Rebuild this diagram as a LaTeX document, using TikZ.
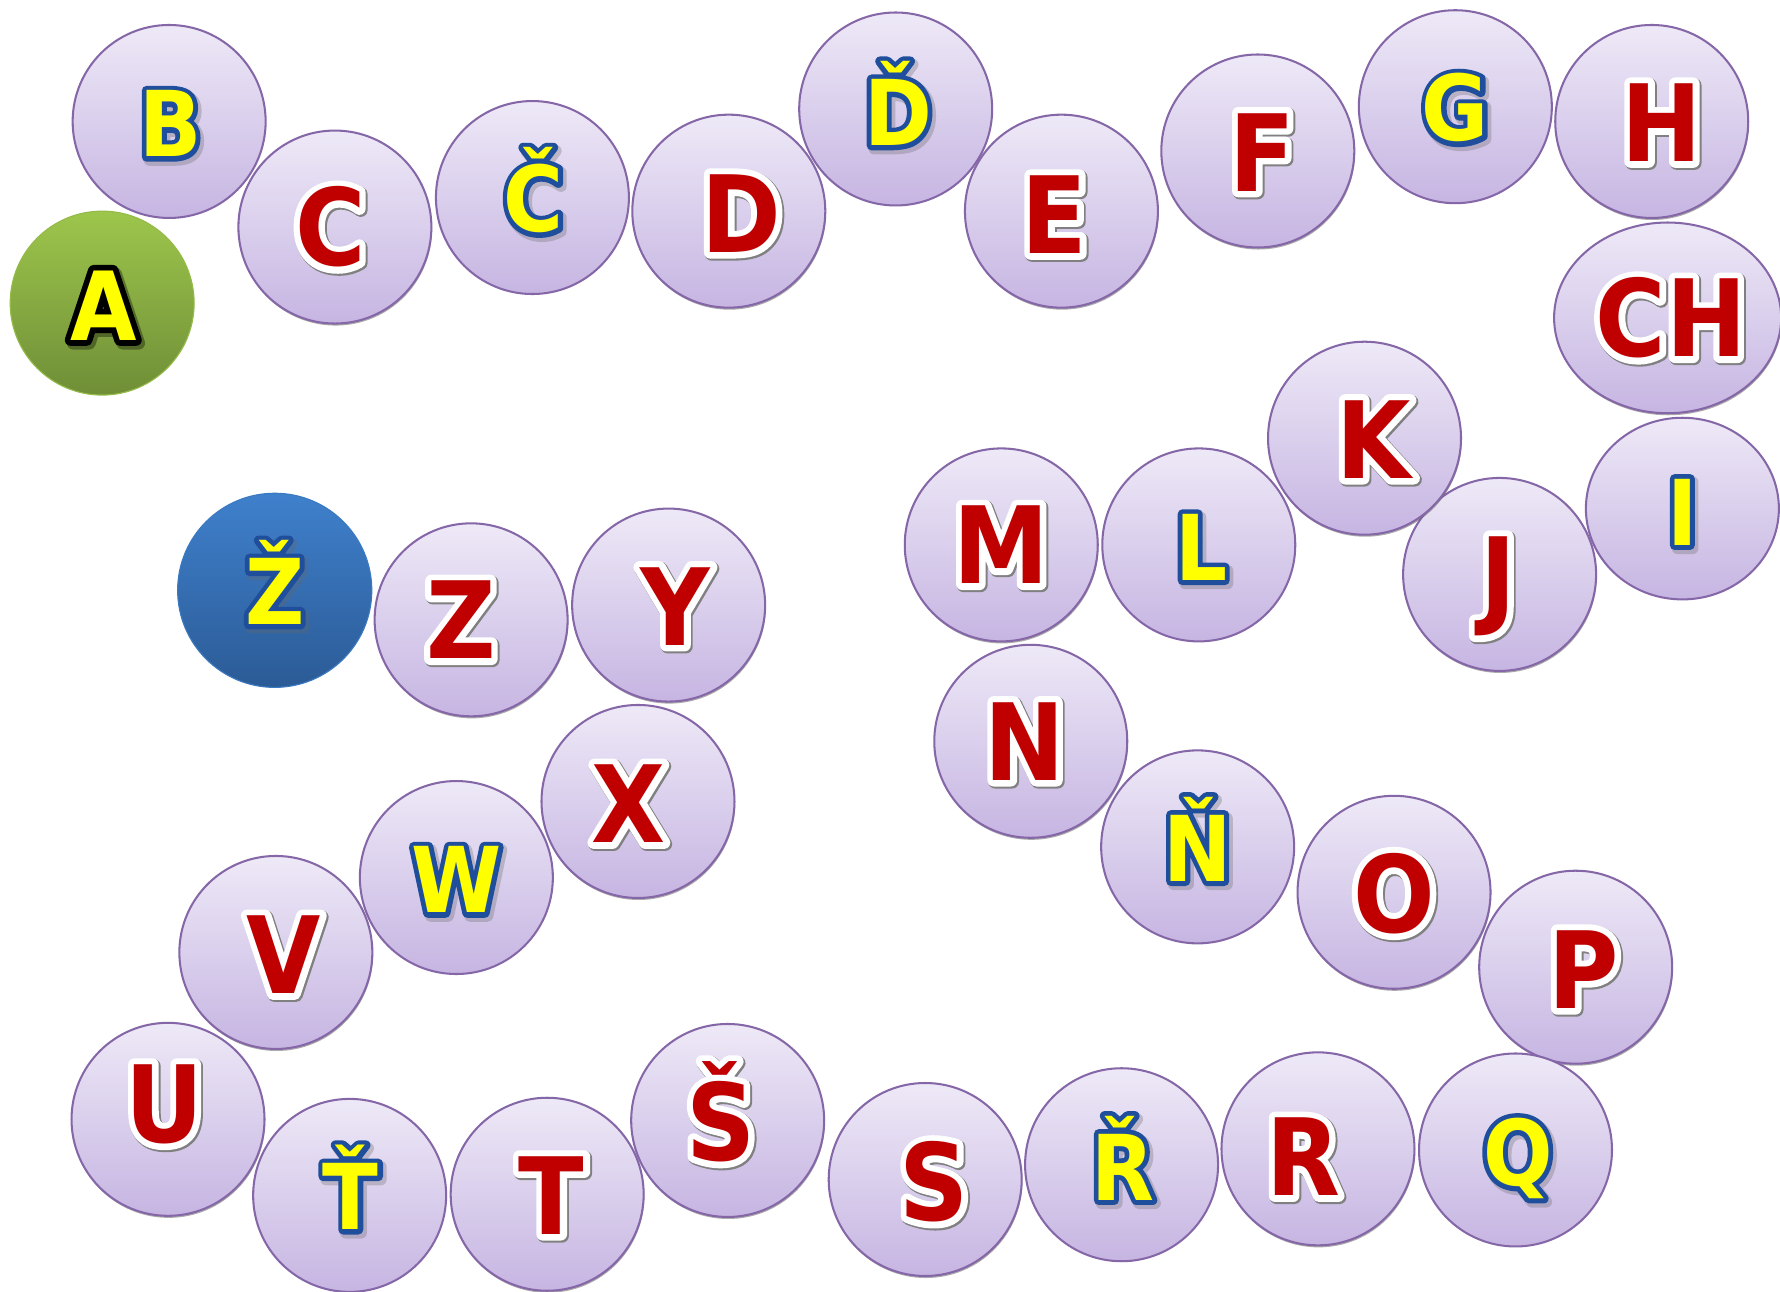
\documentclass[tikz,border=0pt]{standalone}
\usepackage{fontspec}
\usetikzlibrary{shapes.geometric}
\newfontfamily\lf{DejaVu Sans Bold}[FakeStretch=0.9]
\definecolor{lavtop}{HTML}{EEE9F7}
\definecolor{lavbot}{HTML}{C6B5E2}
\definecolor{bubline}{HTML}{8567A8}
\definecolor{redc}{HTML}{C00000}
\definecolor{yelc}{HTML}{FFFF00}
\definecolor{gtop}{HTML}{9DC64C}
\definecolor{gbot}{HTML}{6F8E37}
\definecolor{btop}{HTML}{3F80CC}
\definecolor{bbot}{HTML}{2B5B96}
\tikzset{
 bub/.style={circle, minimum size=170pt, inner sep=0pt, draw=bubline, line width=1.8pt, top color=lavtop, bottom color=lavbot},
 rl/.style={inner sep=0pt, anchor=base, text=redc, font=\lf\fontsize{94}{100}\selectfont},
 yl/.style={inner sep=0pt, anchor=base, text=yelc, font=\lf\fontsize{80}{90}\selectfont},
 al/.style={inner sep=0pt, anchor=base, text=yelc, font=\lf\fontsize{84}{90}\selectfont},
}
% outlined text: stroke colour (pdf RG), stroke width, text
\newcommand\olt[3]{\special{pdf:literal direct #1 RG #2 w 1 j 2 Tr}#3\special{pdf:literal direct 0 Tr}}
% bubbles
\newcommand\shbub[3]{%
  \fill[black!60, opacity=.55] (#2+0.6,#3+1.8) circle (85);
  \node[bub] (#1) at (#2,#3) {};}
\newcommand\plbub[3]{\node[bub] (#1) at (#2,#3) {};}
% letters: name, x, ycenter, text
\newcommand\redlet[4]{%
  \path (#2,#3) ++(1.2,35.6) node[rl, text=black!45] (#1s) {\olt{0.5 0.5 0.5}{12}{#4}};
  \path (#2,#3) ++(0,34.3) node[rl] (#1o) {\olt{1 1 1}{11}{#4}};
  \path (#2,#3) ++(0,34.3) node[rl] (#1) {#4};}
\newcommand\yellet[4]{%
  \path (#2,#3) ++(2.4,32) node[yl, text=black!60, text opacity=.3] (#1s) {\olt{0.4 0.4 0.4}{10}{#4}};
  \path (#2,#3) ++(0,29.2) node[yl] (#1o) {\olt{0.12 0.31 0.61}{8.5}{#4}};
  \path (#2,#3) ++(0,29.2) node[yl] (#1) {#4};}
\begin{document}
\begin{tikzpicture}[x=1pt,y=-1pt]
\useasboundingbox (0,0) rectangle (1568,1138);
\clip (0,0) rectangle (1568,1138);
\fill[white] (0,0) rectangle (1568,1138);
% special bubbles
\node[circle, minimum size=162pt, inner sep=0pt, top color=gtop, bottom color=gbot, draw=gtop!80!gbot, line width=1pt] (bA) at (90,267) {};
\node[circle, minimum size=171pt, inner sep=0pt, top color=btop, bottom color=bbot, draw=btop!80!bbot, line width=1pt] (bZcar) at (242,520) {};
% lavender bubbles
\plbub{bB}{149}{107}
\shbub{bC}{295}{200}
\plbub{bCcar}{469}{174}
\shbub{bD}{642}{186}
\plbub{bDcar}{789}{96}
\shbub{bE}{935}{186}
\shbub{bF}{1108}{133}
\plbub{bG}{1282}{94}
\shbub{bH}{1455}{107}
\fill[black!60, opacity=.55] (1469.6,281.8) ellipse (100 and 84);
\node[bub, ellipse, minimum width=200pt, minimum height=168pt] (bCH) at (1469,280) {};
\node[bub, ellipse, minimum width=170pt, minimum height=160pt] (bI) at (1482,448) {};
\shbub{bJ}{1321}{506}
\shbub{bK}{1202}{386}
\plbub{bL}{1056}{480}
\shbub{bM}{882}{480}
\shbub{bN}{908}{653}
\plbub{bNcar}{1055}{746}
\shbub{bO}{1228}{786}
\shbub{bP}{1388}{852}
\plbub{bQ}{1335}{1013}
\shbub{bR}{1161}{1012}
\plbub{bRcar}{988}{1026}
\shbub{bS}{815}{1039}
\shbub{bScar}{641}{987}
\shbub{bT}{482}{1052}
\plbub{bTcar}{308}{1053}
\shbub{bU}{148}{986}
\shbub{bV}{243}{839}
\plbub{bW}{402}{773}
\shbub{bX}{562}{706}
\shbub{bY}{589}{533}
\shbub{bZ}{415}{546}
% letters
\path (91,269) ++(2.4,33.4) node[al, text=black, text opacity=.35] (tAs) {\olt{0 0 0}{11}{A}};
\path (91,269) ++(0,30.6) node[al] (tAo) {\olt{0 0 0}{10}{A}};
\path (91,269) ++(0,30.6) node[al] (tA) {A};
\yellet{tB}{150}{109}{B}
\redlet{tC}{291}{200}{C}
\yellet{tCcar}{470}{175}{Č}
\redlet{tD}{653}{188}{D}
\yellet{tDcar}{791}{99}{Ď}
\redlet{tE}{929}{189}{E}
\redlet{tF}{1112}{134}{F}
\yellet{tG}{1282}{95}{G}
\redlet{tH}{1464}{108}{H}
\redlet{tCH}{1472}{280}{CH}
\yellet{tI}{1482}{451}{I}
\redlet{tJ}{1320}{507}{J}
\redlet{tK}{1210}{387}{K}
\yellet{tL}{1058}{482}{L}
\redlet{tM}{882}{480}{M}
\redlet{tN}{903}{653}{N}
\yellet{tNcar}{1055}{747}{Ň}
\redlet{tO}{1228}{787}{O}
\redlet{tP}{1395}{854}{P}
\yellet{tQ}{1337}{1015}{Q}
\redlet{tR}{1148}{1019}{R}
\yellet{tRcar}{989}{1028}{Ř}
\redlet{tS}{823}{1041}{S}
\redlet{tScar}{635}{988}{Š}
\redlet{tT}{486}{1053}{T}
\yellet{tTcar}{309}{1054}{Ť}
\redlet{tU}{145}{972}{U}
\redlet{tV}{250}{841}{V}
\yellet{tW}{402}{775}{W}
\redlet{tX}{554}{708}{X}
\redlet{tY}{595}{534}{Y}
\redlet{tZ}{406}{546}{Z}
\yellet{tZcar}{242}{521}{Ž}
\end{tikzpicture}
\end{document}
